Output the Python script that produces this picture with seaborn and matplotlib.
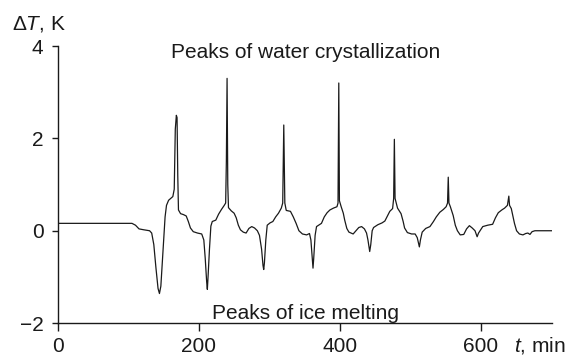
import matplotlib
matplotlib.use("Agg")
import matplotlib.pyplot as plt
import seaborn as sns
import pandas as pd

t_min = [0, 105, 110, 115, 122, 130, 133, 136, 139, 142, 144, 146, 148, 150, 152, 154, 157, 160, 163, 165,
         166.5, 168, 169, 170, 171, 174, 178, 182, 185, 188, 192, 198, 204, 207, 209, 211, 212, 213, 215, 217,
         219, 224, 228, 232, 236, 238, 239, 240, 241, 242, 246, 250, 253, 256, 259, 263, 267, 271, 275, 279,
         283, 286, 289, 291, 292, 293, 295, 297, 301, 305, 309, 313, 317, 319, 320.5, 322, 324, 330, 334, 338,
         342, 347, 353, 357, 359, 361, 362, 363, 365, 367, 374, 378, 382, 386, 391, 396, 397.5, 398.6, 399.5, 402,
         405, 407, 410, 413, 419, 423, 427, 431, 435, 438, 440, 442.5, 444, 446, 448, 454, 460, 464, 468, 471,
         475, 476.5, 477.5, 478.5, 482, 487, 490, 492, 496, 502, 507, 510, 513, 514.5, 517, 522, 528, 533, 537, 542,
         547, 551, 553, 554, 555, 557, 561, 564, 567, 571, 576, 580, 584, 588, 592, 595, 597, 603, 610, 617,
         621, 625, 630, 634, 638, 640, 641, 643.5, 646, 648, 651, 655, 660, 664, 667, 670, 673, 677, 702]
delta_T = [0.16, 0.16, 0.12, 0.04, 0.02, 0.0, -0.05, -0.3, -0.8, -1.25, -1.36, -1.2, -0.7, -0.2, 0.3, 0.55, 0.66, 0.70, 0.74, 0.9,
           2.2, 2.5, 2.45, 1.2, 0.45, 0.37, 0.35, 0.32, 0.2, 0.06, -0.02, -0.05, -0.07, -0.2, -0.6, -1.1, -1.27, -1.0, -0.4, 0.1,
           0.2, 0.23, 0.36, 0.46, 0.55, 0.6, 1.5, 3.3, 1.0, 0.5, 0.43, 0.38, 0.28, 0.12, 0.02, -0.03, -0.05, 0.05, 0.09, 0.06,
           0.0, -0.1, -0.4, -0.75, -0.84, -0.7, -0.2, 0.12, 0.17, 0.2, 0.3, 0.38, 0.49, 0.6, 2.29, 0.6, 0.44, 0.42, 0.3, 0.16,
           0.0, -0.07, -0.09, -0.06, -0.2, -0.6, -0.81, -0.6, -0.1, 0.09, 0.16, 0.3, 0.39, 0.45, 0.49, 0.52, 0.6, 3.2, 0.65, 0.52,
           0.38, 0.23, 0.05, -0.03, -0.07, 0.0, 0.07, 0.09, 0.04, -0.05, -0.2, -0.45, -0.3, 0.0, 0.07, 0.13, 0.17, 0.21, 0.33, 0.42,
           0.48, 0.7, 1.98, 0.7, 0.49, 0.37, 0.2, 0.06, -0.04, -0.07, -0.07, -0.15, -0.35, -0.2, -0.03, 0.05, 0.09, 0.2, 0.3, 0.4,
           0.46, 0.52, 0.6, 1.16, 0.6, 0.52, 0.33, 0.12, 0.0, -0.09, -0.08, 0.04, 0.11, 0.06, 0.0, -0.13, -0.05, 0.09, 0.12, 0.14,
           0.28, 0.39, 0.45, 0.49, 0.55, 0.75, 0.55, 0.48, 0.3, 0.16, 0.0, -0.07, -0.09, -0.06, -0.05, -0.08, -0.02, 0.0, 0.0]

x_ticks = [0, 200, 400, 600]
y_ticks = [-2, 0, 2, 4]
y_tick_labels = ["\u22122", "0", "2", "4"]

sns.set_theme(style="ticks")
plt.rcParams['font.family'] = ['Liberation Sans', 'DejaVu Sans']
plt.rcParams['mathtext.fontset'] = 'custom'
plt.rcParams['mathtext.rm'] = 'Liberation Sans'
plt.rcParams['mathtext.it'] = 'Liberation Sans:italic'

INK = "#1a1a1a"
FS = 15

df = pd.DataFrame({"t": t_min, "dT": delta_T})

fig = plt.figure(figsize=(5.71, 3.57), dpi=100)
ax = fig.add_axes([0.1016, 0.095, 0.866, 0.776])
sns.lineplot(data=df, x="t", y="dT", ax=ax, color=INK, linewidth=0.9,
             estimator=None, sort=False)

ax.set_xlim(0, 702)
ax.set_ylim(-2, 4)
ax.set_xticks(x_ticks)
ax.set_yticks(y_ticks)
ax.set_yticklabels(y_tick_labels)
ax.set_xlabel("")
ax.set_ylabel("")
for s in ["top", "right"]:
    ax.spines[s].set_visible(False)
for s in ["left", "bottom"]:
    ax.spines[s].set_linewidth(1.0)
    ax.spines[s].set_color(INK)
ax.tick_params(axis="both", direction="out", width=1.0, colors=INK, labelsize=FS)
ax.tick_params(axis="y", length=4.5, pad=6)
ax.tick_params(axis="x", length=5.5, pad=4.5)

ax.text(0.5, 0.975, "Peaks of water crystallization", transform=ax.transAxes,
        ha="center", va="center", fontsize=FS, color=INK)
ax.text(0.5, 0.035, "Peaks of ice melting", transform=ax.transAxes,
        ha="center", va="center", fontsize=FS, color=INK)

fig.text(12/571, 1 - 24/357, "\u0394$\\mathit{T}$, K", ha="left", va="center",
         fontsize=FS, color=INK)
fig.text(514/571, 1 - 345/357, "$\\mathit{t}$, min", ha="left", va="center",
         fontsize=FS, color=INK)

fig.savefig("out.png", dpi=100)
